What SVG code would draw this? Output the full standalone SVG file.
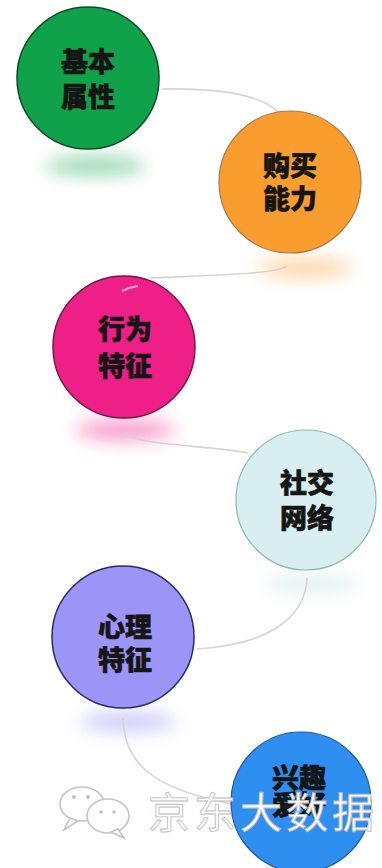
<svg xmlns="http://www.w3.org/2000/svg" width="382" height="868" viewBox="0 0 382 868">
<defs>
<filter id="blur" x="-100%" y="-300%" width="300%" height="700%"><feGaussianBlur stdDeviation="9"/></filter>
<style>
.lbl{font-family:"Noto Sans CJK SC","Noto Sans",sans-serif;font-size:27px;font-weight:900;fill:#151515;text-anchor:middle;stroke:#151515;stroke-width:0.6}
.conn{fill:none;stroke:#d4d4d4;stroke-width:1.6}
.shadow{filter:url(#blur);opacity:0.45}
.wm{font-family:"Noto Sans CJK SC","Noto Sans",sans-serif;font-size:42px;font-weight:normal;fill:#ffffff;stroke:#bdbdbd;stroke-width:0.9;letter-spacing:4px}
.wmi{fill:#ffffff;stroke:#c4c4c4;stroke-width:1.6}
</style>
</defs>
<rect width="382" height="868" fill="#ffffff"/>
<g id="shadows">
<ellipse class="shadow" cx="95" cy="166" rx="50" ry="9" fill="#10a24b"/>
<ellipse class="shadow" cx="305" cy="268" rx="48" ry="9" fill="#f99d2f" opacity="0.3"/>
<ellipse class="shadow" cx="125" cy="430" rx="50" ry="10" fill="#ee1f86"/>
<ellipse class="shadow" cx="312" cy="584" rx="48" ry="8" fill="#b8dcdc" opacity="0.3"/>
<ellipse class="shadow" cx="128" cy="722" rx="48" ry="9" fill="#8b83ee"/>
</g>
<g id="connectors">
<path class="conn" d="M162,89 C222,88 262,96 278,112"/>
<path class="conn" d="M287,266 C278,274 215,275 150,278"/>
<path class="conn" d="M125,432 C135,446 200,444 248,453"/>
<path class="conn" d="M307,578 C305,622 262,645 197,649"/>
<path class="conn" d="M123,718 C124,762 150,788 232,804"/>
</g>
<g id="node-basic">
<circle cx="88" cy="78" r="71" fill="#10a24b" stroke="#0b4a26" stroke-width="1.5"/>
<text class="lbl" x="88" y="72">基本</text>
<text class="lbl" x="88" y="107">属性</text>
</g>
<g id="node-purchase">
<circle cx="290" cy="182" r="71" fill="#f99d2f" stroke="#a87a4a" stroke-width="1.2"/>
<text class="lbl" x="290" y="176">购买</text>
<text class="lbl" x="290" y="209">能力</text>
</g>
<g id="node-behavior">
<circle cx="124" cy="347" r="71" fill="#ee1f86" stroke="#7a1545" stroke-width="1.5"/>
<path d="M122,291 Q130,287 138,286" fill="none" stroke="#ffffff" stroke-width="2" opacity="0.6"/>
<text class="lbl" x="125" y="339">行为</text>
<text class="lbl" x="125" y="376">特征</text>
</g>
<g id="node-social">
<circle cx="306" cy="500" r="70" fill="#d8eef0" stroke="#8cb8b8" stroke-width="1.2"/>
<text class="lbl" x="307" y="493">社交</text>
<text class="lbl" x="307" y="528">网络</text>
</g>
<g id="node-psych">
<circle cx="123" cy="637" r="71" fill="#9c94f6" stroke="#2a2a66" stroke-width="1.5"/>
<text class="lbl" x="125" y="637">心理</text>
<text class="lbl" x="125" y="670">特征</text>
</g>
<g id="node-interest">
<circle cx="301" cy="802" r="70" fill="#2e8ff0" stroke="#1a5aa0" stroke-width="1.2"/>
<text class="lbl" x="299" y="788">兴趣</text>
<text class="lbl" x="299" y="815">爱好</text>
</g>
<g id="watermark">
<ellipse class="wmi" cx="82" cy="804" rx="22" ry="17"/>
<path class="wmi" d="M70,818 L64,830 L78,821 Z"/>
<ellipse class="wmi" cx="108" cy="816" rx="21" ry="17"/>
<path class="wmi" d="M118,829 L124,838 L111,832 Z"/>
<circle cx="74" cy="797" r="2" fill="#c4c4c4"/>
<circle cx="88" cy="797" r="2" fill="#c4c4c4"/>
<circle cx="101" cy="812" r="1.8" fill="#c4c4c4"/>
<circle cx="114" cy="812" r="1.8" fill="#c4c4c4"/>
<text class="wm" x="148" y="828">京东大数据</text>
</g>
</svg>
